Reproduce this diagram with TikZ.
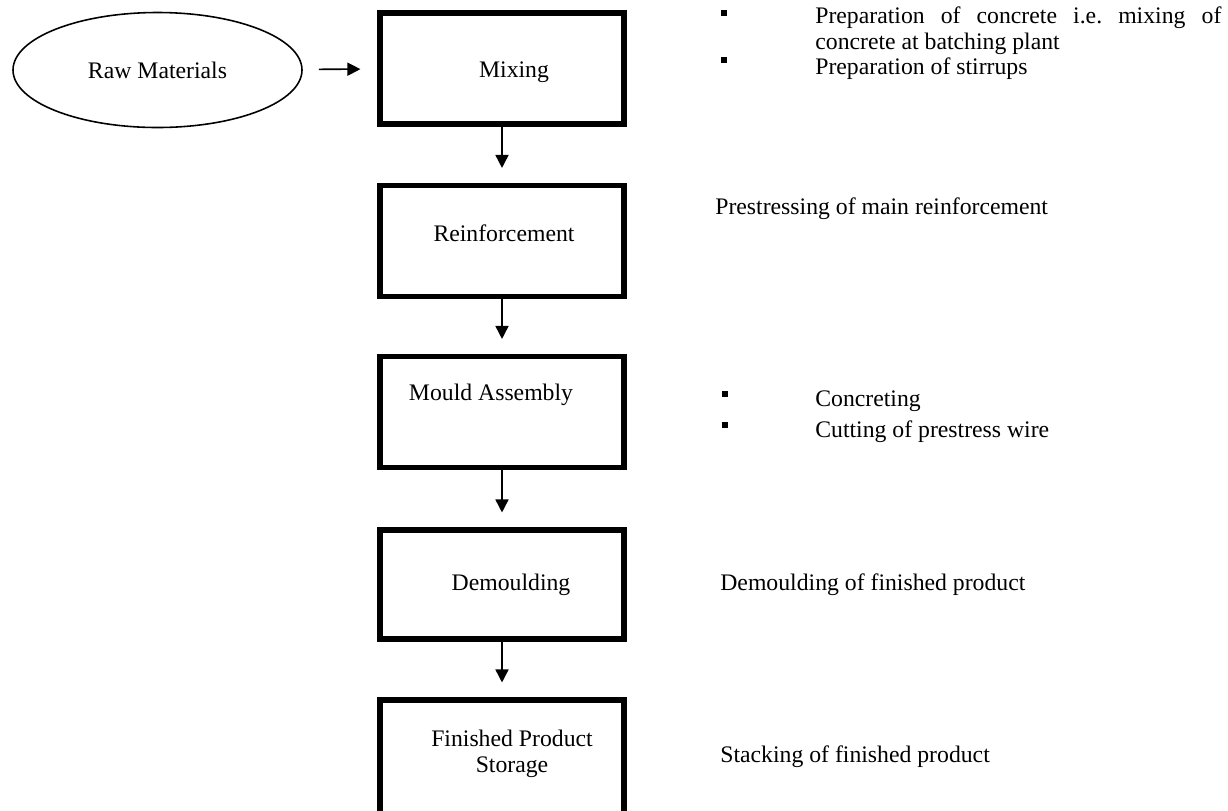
\documentclass[tikz,border=0pt]{standalone}
\usepackage{fontspec}
\setmainfont{Liberation Serif}
\usetikzlibrary{arrows.meta,positioning,shapes.geometric}
\tikzset{>={Triangle[length=2.6mm,width=2.6mm]},
  every node/.style={font=\fontsize{13.5}{15}\selectfont},
  stage/.style={draw,line width=2.9pt,minimum width=48.8mm,inner sep=0pt},
  source/.style={draw,ellipse,line width=.9pt,minimum width=57.8mm,minimum height=23mm},
  flow/.style={->,line width=.9pt},
  note/.style={anchor=west,inner sep=0pt,align=left},
  bullet/.style={fill,minimum size=1.3mm,inner sep=0pt}}

\begin{document}
\begin{tikzpicture}[x=.2mm,y=-.2mm]
\clip (0,0) rectangle (1228,810);
% process chain
\node[source] (raw) at (157.5,70) {Raw Materials};
\node[stage,minimum height=22.2mm] (mix) at (502,68.5) {};
\node[stage,minimum height=22.2mm] (reinf) at (502,241) {};
\node[stage,minimum height=22.2mm] (mould) at (502,412) {};
\node[stage,minimum height=21.8mm] (demould) at (502,584.5) {};
\node[stage,minimum height=28mm] (store) at (502,770) {};
\node (mixt) at (514,72) {Mixing};
\node (reinft) at (504,233) {Reinforcement};
\node (mouldt) at (491,395) {Mould Assembly};
\node (demouldt) at (511,585) {Demoulding};
\node[align=center] (storet) at (512,754) {Finished Product\\Storage};
\draw[flow,shorten <=3.2mm,shorten >=3.4mm] (raw) -- (mix);
\draw[flow,shorten >=3mm] (mix) -- (reinf);
\draw[flow,shorten >=3mm] (reinf) -- (mould);
\draw[flow,shorten >=3mm] (mould) -- (demould);
\draw[flow,shorten >=3mm] (demould) -- (store);
% activities
\node[bullet] (b1) at (724,13) {};
\node[bullet] (b2) at (724,60) {};
\node[note,anchor=north west] (n1) at (815,6)
  {\makebox[81.2mm][s]{Preparation of concrete i.e.\ mixing of}\\concrete at batching plant};
\node[note] (n2) at (815,69) {Preparation of stirrups};
\node[note] (n3) at (715,209) {Prestressing of main reinforcement};
\node[bullet] (b3) at (725,394) {};
\node[bullet] (b4) at (725,425) {};
\node[note] (n4) at (815,401) {Concreting};
\node[note] (n5) at (815,432) {Cutting of prestress wire};
\node[note] (n6) at (720,585) {Demoulding of finished product};
\node[note] (n7) at (720,757) {Stacking of finished product};
\end{tikzpicture}
\end{document}
